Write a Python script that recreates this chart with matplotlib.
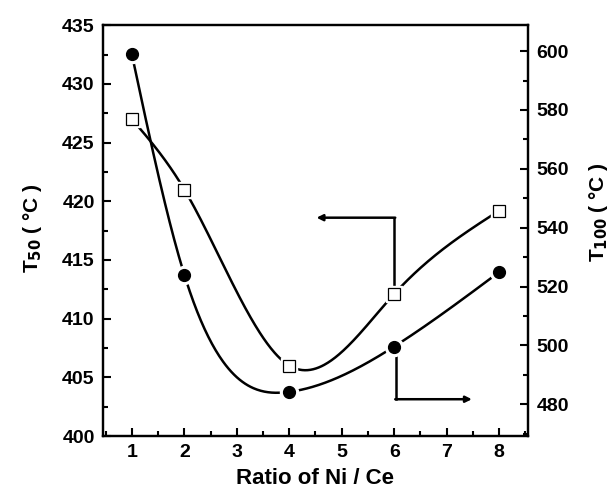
import numpy as np
import matplotlib.pyplot as plt
from matplotlib.ticker import MultipleLocator

plt.rcParams['font.family'] = ['Liberation Sans', 'DejaVu Sans']
plt.rcParams['font.weight'] = 'bold'

ratio = [1, 2, 4, 6, 8]
t50 = [427.0, 421.0, 406.0, 412.1, 419.2]
t100 = [598.9, 524.0, 484.2, 499.6, 524.9]
x_ticks = [1, 2, 3, 4, 5, 6, 7, 8]


def natural_spline(x, y, xs):
    # plain natural cubic spline, no scipy here
    x = np.asarray(x, float)
    y = np.asarray(y, float)
    n = len(x)
    h = np.diff(x)
    A = np.zeros((n, n))
    b = np.zeros(n)
    A[0, 0] = A[-1, -1] = 1
    for i in range(1, n - 1):
        A[i, i - 1] = h[i - 1]
        A[i, i] = 2 * (h[i - 1] + h[i])
        A[i, i + 1] = h[i]
        b[i] = 3 * ((y[i + 1] - y[i]) / h[i] - (y[i] - y[i - 1]) / h[i - 1])
    c = np.linalg.solve(A, b)
    out = np.empty_like(xs)
    for k, xv in enumerate(xs):
        i = min(np.searchsorted(x, xv) - 1, n - 2)
        i = max(i, 0)
        dx = xv - x[i]
        bi = (y[i + 1] - y[i]) / h[i] - h[i] * (2 * c[i] + c[i + 1]) / 3
        di = (c[i + 1] - c[i]) / (3 * h[i])
        out[k] = y[i] + bi * dx + c[i] * dx ** 2 + di * dx ** 3
    return out


fig = plt.figure(figsize=(6.15, 4.92), dpi=100)
ax = fig.add_axes([0.1675, 0.1138, 0.691, 0.835])
ax2 = ax.twinx()

xs = np.linspace(1, 8, 400)

# T50 curve, open squares
ax.plot(xs, natural_spline(ratio, t50, xs), color='black', lw=1.8, zorder=2)
ax.plot(ratio, t50, 's', ms=12, mfc='white', mec='white', zorder=3)
ax.plot(ratio, t50, 's', ms=8, mfc='white', mec='black', mew=0.9, zorder=4)

# T100 curve, filled circles
ax2.plot(xs, natural_spline(ratio, t100, xs), color='black', lw=1.8, zorder=2)
ax2.plot(ratio, t100, 'o', ms=13, mfc='white', mec='white', zorder=3)
ax2.plot(ratio, t100, 'o', ms=8.5, mfc='black', mec='black', zorder=4)

# arrows pointing to the axes
ax.plot([6, 6], [412.9, 418.6], color='black', lw=1.8)
ax.annotate('', xy=(4.52, 418.6), xytext=(6.02, 418.6),
            arrowprops=dict(arrowstyle='-|>', color='black', lw=1.8,
                            mutation_scale=9, shrinkA=0, shrinkB=0))
ax2.plot([6.04, 6.04], [499.0, 481.7], color='black', lw=1.8)
ax2.annotate('', xy=(7.48, 481.7), xytext=(6.02, 481.7),
             arrowprops=dict(arrowstyle='-|>', color='black', lw=1.8,
                             mutation_scale=9, shrinkA=0, shrinkB=0))

ax.set_xlim(0.45, 8.55)
ax.set_ylim(400, 435)
ax2.set_ylim(469.2, 608.8)

ax.set_xticks(x_ticks)
ax.xaxis.set_minor_locator(MultipleLocator(0.5))
ax.yaxis.set_major_locator(MultipleLocator(5))
ax.yaxis.set_minor_locator(MultipleLocator(2.5))
ax2.yaxis.set_major_locator(MultipleLocator(20))
ax2.yaxis.set_minor_locator(MultipleLocator(10))

for a in (ax, ax2):
    a.tick_params(which='both', direction='in', width=1.5, labelsize=14)
    a.tick_params(which='major', length=6)
    a.tick_params(which='minor', length=3.5)
    for s in a.spines.values():
        s.set_linewidth(1.6)
ax.tick_params(axis='x', pad=6)
ax.tick_params(axis='y', pad=6)
ax2.tick_params(axis='y', pad=6)

ax.set_xlabel('Ratio of Ni / Ce', fontsize=16, fontweight='bold')
ax.xaxis.set_label_coords(0.5, -0.078)
ax.set_ylabel('T$_{\\mathbf{50}}$ ( °C )', fontsize=15, fontweight='bold')
ax.yaxis.set_label_coords(-0.14, 0.505)
ax2.set_ylabel('T$_{\\mathbf{100}}$ ( °C )', fontsize=15, fontweight='bold')
ax2.yaxis.set_label_coords(1.14, 0.545)

fig.savefig('out.png', dpi=100)
